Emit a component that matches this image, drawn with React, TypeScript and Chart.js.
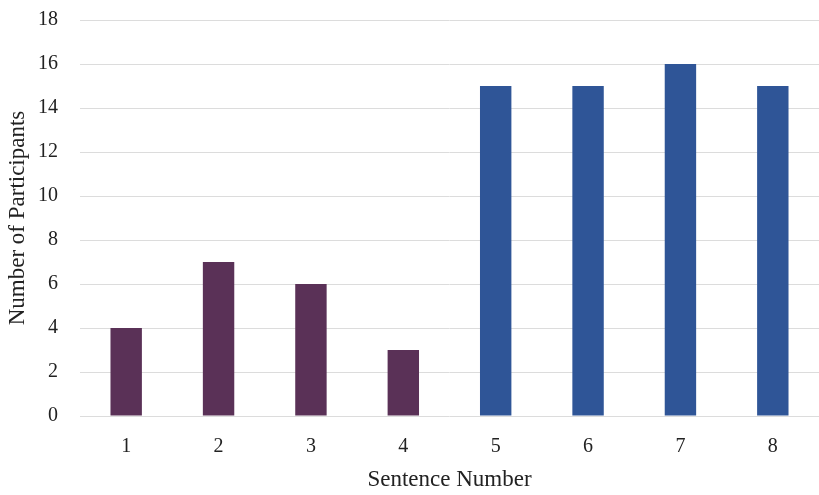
import React, { useEffect, useRef } from "react";
import { Chart, registerables } from "chart.js";

Chart.register(...registerables);

const categories = ["1", "2", "3", "4", "5", "6", "7", "8"];
const participants = [4, 7, 6, 3, 15, 15, 16, 15];
const yTicks = [0, 2, 4, 6, 8, 10, 12, 14, 16, 18];

const PURPLE = "#5a3157";
const BLUE = "#2f5597";
const FONT = "'Liberation Serif', 'Times New Roman', serif";

export default function App() {
  const ref = useRef<HTMLCanvasElement | null>(null);

  useEffect(() => {
    if (!ref.current) return;
    const colors = categories.map((_, i) => (i < 4 ? PURPLE : BLUE));
    const chart = new Chart(ref.current, {
      type: "bar",
      data: {
        labels: categories,
        datasets: [
          {
            label: "Participants",
            data: participants,
            backgroundColor: colors,
            borderWidth: 0,
            barPercentage: 0.34,
            categoryPercentage: 1,
          },
        ],
      },
      options: {
        responsive: false,
        animation: false,
        layout: { padding: { left: 4, right: 0, top: 20, bottom: 1 } },
        plugins: {
          legend: { display: false },
          tooltip: { enabled: false },
          title: { display: false },
        },
        scales: {
          x: {
            grid: { display: false },
            border: { display: false },
            afterFit: (axis: any) => {
              axis.height = 78;
            },
            ticks: {
              color: "#222",
              font: { family: FONT, size: 20 },
              padding: 11,
            },
            title: {
              display: true,
              text: "Sentence Number",
              color: "#222",
              font: { family: FONT, size: 23 },
              padding: { top: 0, bottom: 0 },
            },
          },
          y: {
            min: 0,
            max: 18,
            afterBuildTicks: (axis: any) => {
              axis.ticks = yTicks.map((v) => ({ value: v }));
            },
            afterFit: (axis: any) => {
              axis.width = 76;
              axis.paddingTop = 0;
              axis.paddingBottom = 0;
            },
            grid: { color: "#dcdcdc", lineWidth: 1, drawTicks: false },
            border: { display: false },
            ticks: {
              color: "#222",
              font: { family: FONT, size: 20 },
              padding: 22,
            },
            title: {
              display: true,
              text: "Number of Participants",
              color: "#222",
              font: { family: FONT, size: 23 },
              padding: { top: 0, bottom: 4 },
            },
          },
        },
      },
    });
    return () => chart.destroy();
  }, []);

  return (
    <div style={{ position: "fixed", left: 0, top: 0, width: 819, height: 495, background: "#fff" }}>
      <canvas ref={ref} width={819} height={495} />
    </div>
  );
}
